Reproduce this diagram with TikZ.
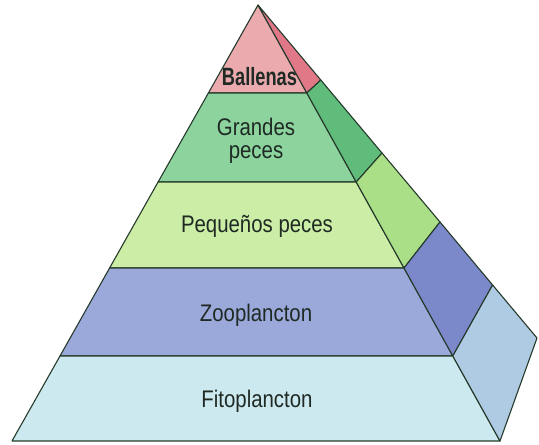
\documentclass[tikz,border=0pt]{standalone}
\usepackage{fontspec}
\setmainfont{Liberation Sans}
\newfontfamily\levelfont[FakeStretch=0.85]{Liberation Sans}
\newfontfamily\topfont[FakeStretch=0.73]{Liberation Sans}
\usepackage{xcolor}
\usetikzlibrary{positioning}

\definecolor{edgecol}{HTML}{263A2C}
\definecolor{textcol}{HTML}{1F2A24}
\definecolor{whaleFront}{HTML}{EBAAAE}
\definecolor{whaleSide}{HTML}{E07888}
\definecolor{bigFront}{HTML}{8CD39E}
\definecolor{bigSide}{HTML}{5FBC7A}
\definecolor{smallFront}{HTML}{CBEDA5}
\definecolor{smallSide}{HTML}{AADF88}
\definecolor{zooFront}{HTML}{9AA8DA}
\definecolor{zooSide}{HTML}{7B88CA}
\definecolor{phytoFront}{HTML}{CDE9F0}
\definecolor{phytoSide}{HTML}{AFCBE4}

\begin{document}
\begin{tikzpicture}[x=1pt, y=-1pt,
        face/.style={draw=edgecol, line width=1.1pt, line join=round},
        level/.style={font=\levelfont\fontsize{24}{23}\selectfont, text=textcol, anchor=base, inner sep=0pt, align=center}]
        \useasboundingbox (0,0) rectangle (539,445);

        % corners of the pyramid
        \coordinate (apex) at (258,5);
        \coordinate (l1) at (208.4,93);
        \coordinate (l2) at (158.1,182);
        \coordinate (l3) at (109.6,268);
        \coordinate (l4) at (60,356);
        \coordinate (l5) at (12,441);
        \coordinate (r1) at (306.8,93);
        \coordinate (r2) at (356.2,182);
        \coordinate (r3) at (404,268);
        \coordinate (r4) at (452.8,356);
        \coordinate (r5) at (500,441);
        \coordinate (b1) at (320.8,80);
        \coordinate (b2) at (382,153);
        \coordinate (b3) at (440,222);
        \coordinate (b4) at (492.6,285);
        \coordinate (b5) at (537,338);

        \filldraw[face, fill=whaleFront] (apex) -- (r1) -- (l1) -- cycle;
        \filldraw[face, fill=whaleSide] (apex) -- (b1) -- (r1) -- cycle;
        \filldraw[face, fill=bigFront] (l1) -- (r1) -- (r2) -- (l2) -- cycle;
        \filldraw[face, fill=bigSide] (r1) -- (b1) -- (b2) -- (r2) -- cycle;
        \filldraw[face, fill=smallFront] (l2) -- (r2) -- (r3) -- (l3) -- cycle;
        \filldraw[face, fill=smallSide] (r2) -- (b2) -- (b3) -- (r3) -- cycle;
        \filldraw[face, fill=zooFront] (l3) -- (r3) -- (r4) -- (l4) -- cycle;
        \filldraw[face, fill=zooSide] (r3) -- (b3) -- (b4) -- (r4) -- cycle;
        \filldraw[face, fill=phytoFront] (l4) -- (r4) -- (r5) -- (l5) -- cycle;
        \filldraw[face, fill=phytoSide] (r4) -- (b4) -- (b5) -- (r5) -- cycle;

        % labels
        \node[level, font=\topfont\bfseries\fontsize{25}{25}\selectfont] (whales) at (259.5,85) {Ballenas};
        \node[level] (bigfish) at (256,158) {Grandes\\peces};
        \node[level] (smallfish) at (257,232) {Pequeños peces};
        \node[level] (zoo) at (256,321) {Zooplancton};
        \node[level] (phyto) at (257,407) {Fitoplancton};
    \end{tikzpicture}
\end{document}
